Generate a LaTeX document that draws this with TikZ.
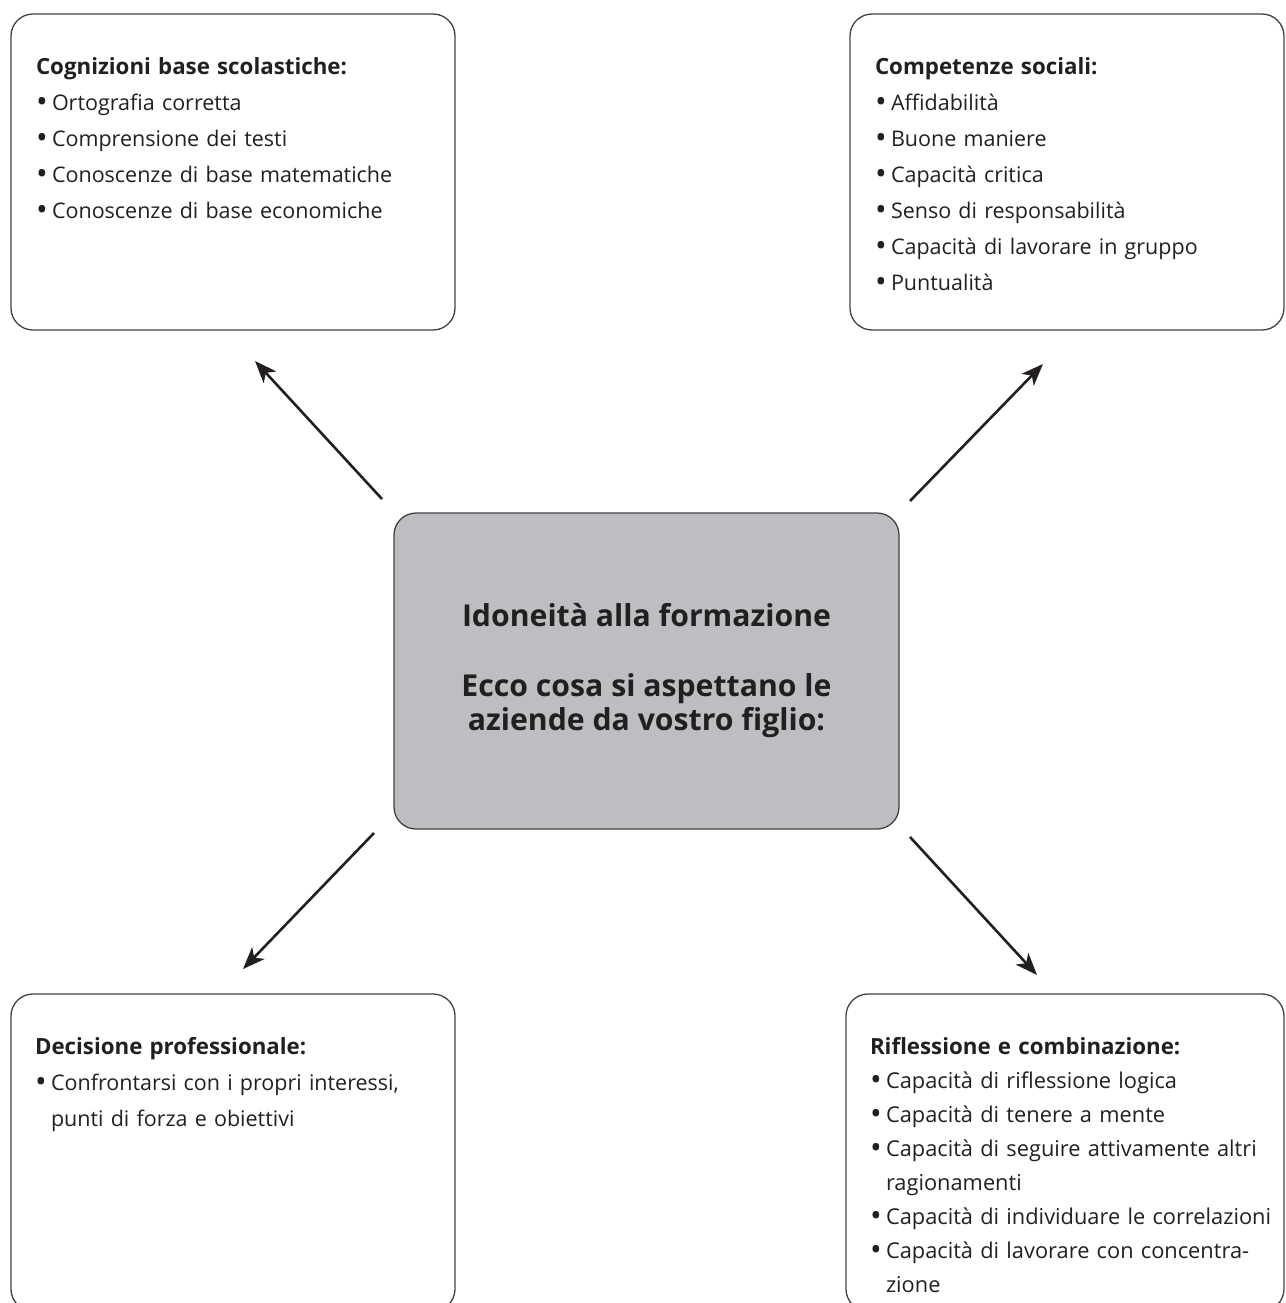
\documentclass[tikz,border=0pt]{standalone}
\usepackage{fontspec}
\setmainfont{Open Sans}
\usetikzlibrary{positioning,arrows.meta}
\definecolor{boxgray}{RGB}{189,190,193}
\definecolor{inkblack}{RGB}{35,31,32}
\setlength{\parindent}{0pt}
\newcommand{\hd}[1]{\strut{\fontsize{22.3}{36}\selectfont\bfseries #1}}
\newcommand{\itm}[1]{\par\hangindent=16pt\hangafter=1%
  \makebox[16pt][l]{\raisebox{-2.5pt}{\fontsize{31}{36}\selectfont\textbullet}}#1\par}

\begin{document}
\begin{tikzpicture}[x=1pt,y=1pt,inner sep=0pt,outer sep=0pt,
infobox/.style={draw=inkblack!85,line width=1.3pt,rounded corners=22pt,rectangle,minimum width=444pt,minimum height=316pt},
listtext/.style={text=inkblack,align=left,text width=440pt,font=\fontsize{21.5}{36}\selectfont},
arr/.style={-{Stealth[length=22pt,width=17pt,inset=6pt]},line width=2.6pt,draw=inkblack}]

\useasboundingbox (0,0) rectangle (1285,-1303);
\clip (0,0) rectangle (1285,-1303);

\draw (233,-172) node[infobox] (cog) {};
\draw (1067,-172) node[infobox,minimum width=434pt] (soc) {};
\draw (233,-1152.5) node[infobox,minimum height=317pt] (dec) {};
\draw (1065,-1152.5) node[infobox,minimum width=438pt,minimum height=317pt] (rif) {};
\draw (646.5,-671) node[infobox,fill=boxgray,minimum width=505pt,text=inkblack,align=center,
  font=\fontsize{30.2}{34}\selectfont\bfseries] (idea) {Idoneità alla formazione\\[36pt]Ecco cosa si aspettano le\\aziende da vostro figlio:};

\node[listtext,below right=35pt and 25pt of cog.north west] (cogtext) {\hd{Cognizioni base scolastiche:}
\itm{Ortografia corretta}
\itm{Comprensione dei testi}
\itm{Conoscenze di base matematiche}
\itm{Conoscenze di base economiche}};

\node[listtext,below right=35pt and 25pt of soc.north west] (soctext) {\hd{Competenze sociali:}
\itm{Affidabilità}
\itm{Buone maniere}
\itm{Capacità critica}
\itm{Senso di responsabilità}
\itm{Capacità di lavorare in gruppo}
\itm{Puntualità}};

\node[listtext,below right=35pt and 24pt of dec.north west] (dectext) {\hd{Decisione professionale:}
\itm{Confrontarsi con i propri interessi,\newline punti di forza e obiettivi}};

\node[listtext,font=\fontsize{21.8}{34}\selectfont,below right=36.2pt and 24pt of rif.north west] (riftext) {\hd{Riflessione e combinazione:}
\itm{Capacità di riflessione logica}
\itm{Capacità di tenere a mente}
\itm{Capacità di seguire attivamente altri\newline ragionamenti}
\itm{Capacità di individuare le correlazioni}
\itm{Capacità di lavorare con concentra-\newline zione}};

\draw[arr] ([shift={(-12,14)}]idea.north west) -- ([shift={(22,-31)}]cog.south);
\draw[arr] ([shift={(11,12)}]idea.north east) -- ([shift={(-24,-34)}]soc.south);
\draw[arr] ([shift={(-20,-4)}]idea.south west) -- ([shift={(10,25)}]dec.north);
\draw[arr] ([shift={(11,-8)}]idea.south east) -- ([shift={(-28,19)}]rif.north);

\end{tikzpicture}
\end{document}
